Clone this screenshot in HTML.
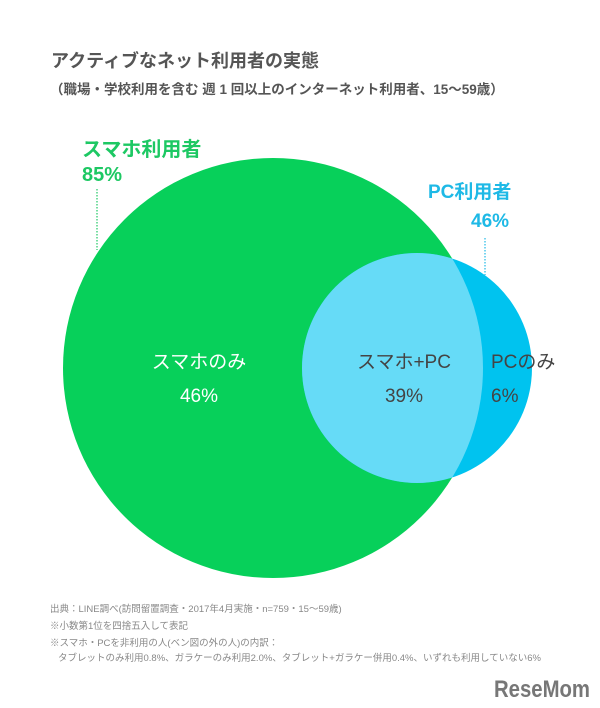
<!DOCTYPE html>
<html><head><meta charset="utf-8"><style>
html,body{margin:0;padding:0;background:#fff;}
svg{display:block;font-family:"Liberation Sans","Noto Sans CJK JP",sans-serif;}
</style></head><body>
<svg width="600" height="708" viewBox="0 0 600 708" xmlns="http://www.w3.org/2000/svg">
<rect width="600" height="708" fill="#fff"/>
<text x="51" y="67" font-size="18" font-weight="bold" fill="#555">アクティブなネット利用者の実態</text>
<text x="50" y="94" font-size="13.5" font-weight="bold" fill="#555">（職場・学校利用を含む 週 1 回以上のインターネット利用者、15～59歳）</text>

<defs><clipPath id="g"><circle cx="273" cy="368" r="210"/></clipPath></defs>
<circle cx="273" cy="368" r="210" fill="#07D05A"/>
<circle cx="417" cy="368" r="115" fill="#00C3EF"/>
<circle cx="417" cy="368" r="115" fill="#66DBF7" clip-path="url(#g)"/>

<text x="82" y="156" font-size="20" font-weight="bold" fill="#1DC863">スマホ利用者</text>
<text x="82" y="181" font-size="20" font-weight="bold" fill="#1DC863">85%</text>
<line x1="97" y1="189" x2="97" y2="250" stroke="#1DC863" stroke-width="1.2" stroke-dasharray="1.5,1.5"/>

<text x="428" y="198" font-size="19" font-weight="bold" fill="#1EB9E6">PC利用者</text>
<text x="471" y="227" font-size="19" font-weight="bold" fill="#1EB9E6">46%</text>
<line x1="485" y1="238" x2="485" y2="275" stroke="#1EB9E6" stroke-width="1.2" stroke-dasharray="1.5,1.5"/>

<g font-size="19" text-anchor="middle">
<text x="199" y="368" fill="#fff">スマホのみ</text>
<text x="199" y="402" fill="#fff">46%</text>
<text x="404" y="368" fill="#444">スマホ+PC</text>
<text x="404" y="402" fill="#444">39%</text>
</g>
<text x="491" y="368" font-size="19" fill="#444">PCのみ</text>
<text x="491" y="402" font-size="19" fill="#444">6%</text>

<g font-size="9.5" fill="#888">
<text x="50" y="612">出典：LINE調べ(訪問留置調査・2017年4月実施・n=759・15～59歳)</text>
<text x="50" y="629">※小数第1位を四捨五入して表記</text>
<text x="50" y="646">※スマホ・PCを非利用の人(ベン図の外の人)の内訳：</text>
<text x="58" y="661">タブレットのみ利用0.8%、ガラケーのみ利用2.0%、タブレット+ガラケー併用0.4%、いずれも利用していない6%</text>
</g>
<text x="590" y="697" font-size="24" font-weight="bold" fill="#777" text-anchor="end" textLength="96" lengthAdjust="spacingAndGlyphs">ReseMom</text>
</svg>
</body></html>
